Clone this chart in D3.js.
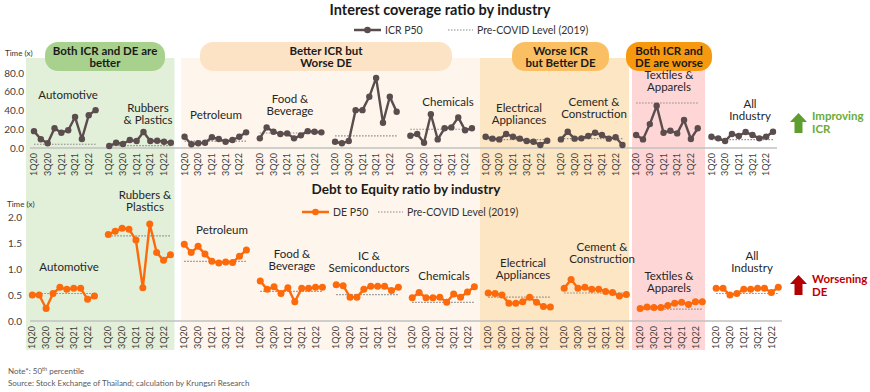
<!DOCTYPE html>
<html><head><meta charset="utf-8">
<script src="https://cdn.jsdelivr.net/npm/d3@7"></script>
<style>
html,body{margin:0;padding:0;background:#fff;}
svg{display:block;font-family:Lato,"Open Sans",sans-serif;}
</style></head>
<body>
<svg id="chart" width="870" height="392"></svg>
<script>
// ---------------- DATA ----------------
const quarters = ["1Q20","2Q20","3Q20","4Q20","1Q21","2Q21","3Q21","4Q21","1Q22","2Q22"];
const tickQuarters = ["1Q20","3Q20","1Q21","3Q21","1Q22"];
const industries = ["Automotive","Rubbers & Plastics","Petroleum","Food & Beverage","IC & Semiconductors",
  "Chemicals","Electrical Appliances","Cement & Construction","Textiles & Apparels","All Industry"];

const icrP50 = [
  [18, 9.3, 5, 21, 16.3, 19, 33, 9.6, 35, 40.4],
  [2.1, 5.6, 4.3, 8.5, 7.4, 17, 7.4, 7.8, 6.7, 5.6],
  [12, 4, 5, 5.6, 11.4, 9.6, 6.7, 8.5, 12, 16.7],
  [10.3, 22, 17.3, 15, 15.6, 10.3, 13.5, 18, 17.3, 16.7],
  [6.7, 5, 7.4, 40.4, 40.4, 54.6, 74.8, 27, 54.6, 38.6],
  [13, 15, 5.6, 36, 9.2, 21, 22, 32.6, 19, 21],
  [12, 10, 9.2, 15, 12, 10, 7.4, 6.7, 3.2, 7.8],
  [9.2, 17.3, 10, 10.3, 12.8, 16.3, 13.8, 10, 11.4, 3.2],
  [13.8, 9.2, 25.5, 45, 16.3, 18.4, 15.6, 29.8, 9.6, 21],
  [12, 10.3, 7.4, 15, 12.8, 17, 13.8, 10.3, 12, 17.3]
];
const icrPreCovid = [4, 2.5, 7.4, 16, 13, 20, 9, 10, 48, 9];

const deP50 = [
  [0.50, 0.50, 0.24, 0.53, 0.65, 0.61, 0.63, 0.63, 0.42, 0.48],
  [1.67, 1.73, 1.79, 1.77, 1.56, 0.64, 1.87, 1.32, 1.17, 1.28],
  [1.48, 1.32, 1.44, 1.29, 1.15, 1.12, 1.14, 1.13, 1.25, 1.37],
  [0.77, 0.61, 0.66, 0.53, 0.64, 0.37, 0.63, 0.63, 0.65, 0.65],
  [0.70, 0.68, 0.46, 0.46, 0.61, 0.67, 0.67, 0.67, 0.59, 0.65],
  [0.45, 0.55, 0.45, 0.45, 0.46, 0.36, 0.52, 0.46, 0.56, 0.66],
  [0.54, 0.53, 0.50, 0.34, 0.34, 0.37, 0.46, 0.36, 0.28, 0.27],
  [0.63, 0.80, 0.63, 0.65, 0.61, 0.61, 0.57, 0.55, 0.48, 0.51],
  [0.24, 0.27, 0.26, 0.26, 0.30, 0.34, 0.36, 0.32, 0.37, 0.37],
  [0.63, 0.63, 0.50, 0.53, 0.61, 0.61, 0.63, 0.63, 0.55, 0.65]
];
const dePreCovid = [0.53, 1.64, 1.15, 0.57, 0.51, 0.36, 0.46, 0.54, 0.23, 0.53];

const icrTicks = [0, 20, 40, 60, 80];
const deTicks = [0, 0.5, 1.0, 1.5, 2.0];

const zoneLabels = [["Both ICR and DE are","better"],["Better ICR but","Worse DE"],["Worse ICR","but Better DE"],["Both ICR and","DE are worse"]];

// ---------------- LAYOUT ----------------
const svg = d3.select("#chart");
const slotsPerGroup = 11;
const nSlots = industries.length * slotsPerGroup - 1;
const slot = (g, q) => g * slotsPerGroup + q;

const xTop = d3.scaleLinear().domain([0, nSlots - 1]).range([34, 773]);
const xBot = d3.scaleLinear().domain([0, nSlots - 1]).range([32.3, 778.3]);
const yTop = d3.scaleLinear().domain([0, 80]).range([148, 73]);
const yBot = d3.scaleLinear().domain([0, 2]).range([321, 217.3]);

const zones = [
  {x0: 26, x1: 174.5, fill: "#e2efd9", pill: [45, 165], pillFill: "#a9d18e"},
  {x0: 181, x1: 480, fill: "#fef6ec", pill: [200, 452], pillFill: "#fde3c6"},
  {x0: 480, x1: 629, fill: "#fde6c3", pill: [512, 609], pillFill: "#fbbf63"},
  {x0: 632, x1: 705, fill: "#ffd6d6", pill: [626, 712], pillFill: "#f7990f"}
];

// background zones
zones.forEach(z => {
  svg.append("rect").attr("x", z.x0).attr("y", 58).attr("width", z.x1 - z.x0).attr("height", 292).attr("fill", z.fill);
});
zones.forEach((z, i) => {
  svg.append("rect").attr("x", z.pill[0]).attr("y", 42).attr("width", z.pill[1] - z.pill[0]).attr("height", 29)
    .attr("rx", 13).attr("fill", z.pillFill);
  const t = svg.append("text").attr("x", (z.pill[0] + z.pill[1]) / 2).attr("y", 54.5)
    .attr("text-anchor", "middle").attr("font-size", 11.5).attr("font-weight", 700).attr("fill", "#1a1a1a");
  zoneLabels[i].forEach((s, k) => t.append("tspan").attr("x", (z.pill[0] + z.pill[1]) / 2).attr("dy", k ? 12 : 0).text(s));
});

// titles
svg.append("text").attr("x", 440).attr("y", 15).attr("text-anchor", "middle").attr("font-size", 14.5)
  .attr("font-weight", 700).attr("fill", "#1a1a1a").text("Interest coverage ratio by industry");
svg.append("text").attr("x", 406).attr("y", 194).attr("text-anchor", "middle").attr("font-size", 13.5)
  .attr("font-weight", 700).attr("fill", "#1a1a1a").text("Debt to Equity ratio by industry");

const icrColor = "#5b4c4d", deColor = "#fd6a0b", dotColor = "#8a8a8a";

// legends
function legend(x, y, color, label, dotX, dotLabel) {
  svg.append("line").attr("x1", x).attr("x2", x + 27).attr("y1", y).attr("y2", y).attr("stroke", color).attr("stroke-width", 2.5);
  svg.append("circle").attr("cx", x + 13.5).attr("cy", y).attr("r", 3.3).attr("fill", color);
  svg.append("text").attr("x", x + 31).attr("y", y + 3.5).attr("font-size", 10.5).attr("fill", "#333").text(label);
  svg.append("line").attr("x1", dotX).attr("x2", dotX + 25).attr("y1", y).attr("y2", y).attr("stroke", dotColor)
    .attr("stroke-width", 1.2).attr("stroke-dasharray", "1.5,1.5");
  svg.append("text").attr("x", dotX + 29).attr("y", y + 3.5).attr("font-size", 10.5).attr("fill", "#333").text(dotLabel);
}
legend(354, 30, icrColor, "ICR P50", 448, "Pre-COVID Level (2019)");
legend(302, 212, deColor, "DE P50", 378, "Pre-COVID Level (2019)");

// y axes labels
svg.append("text").attr("x", 5).attr("y", 56).attr("font-size", 8).attr("fill", "#333").text("Time (x)");
svg.append("text").attr("x", 7).attr("y", 207).attr("font-size", 8).attr("fill", "#333").text("Time (x)");
svg.append("g").selectAll("text").data(icrTicks).join("text").attr("x", 24).attr("y", d => yTop(d) + 3.5)
  .attr("text-anchor", "end").attr("font-size", 10).attr("fill", "#404040").text(d3.format(".1f"));
svg.append("g").selectAll("text").data(deTicks).join("text").attr("x", 22).attr("y", d => yBot(d) + 3.5)
  .attr("text-anchor", "end").attr("font-size", 10).attr("fill", "#404040").text(d3.format(".1f"));

// baselines
svg.append("line").attr("x1", 30).attr("x2", 777).attr("y1", yTop(0)).attr("y2", yTop(0)).attr("stroke", "#c0c0c0").attr("stroke-width", 1.5);
svg.append("line").attr("x1", 30).attr("x2", 782).attr("y1", yBot(0)).attr("y2", yBot(0)).attr("stroke", "#c0c0c0").attr("stroke-width", 1.5);

// x tick labels (rotated)
function xTicks(xs, yTopPos) {
  const g = svg.append("g");
  industries.forEach((ind, gi) => {
    quarters.forEach((q, qi) => {
      if (!tickQuarters.includes(q)) return;
      const x = xs(slot(gi, qi));
      g.append("text").attr("transform", `translate(${x},${yTopPos}) rotate(-90)`)
        .attr("text-anchor", "end").attr("dy", "0.35em").attr("font-size", 9).attr("fill", "#404040").text(q);
    });
  });
}
xTicks(xTop, 153);
xTicks(xBot, 326);

// series
function drawPanel(xs, ys, values, pre, color, r, width) {
  const g = svg.append("g");
  values.forEach((vals, gi) => {
    const pts = vals.map((v, qi) => [xs(slot(gi, qi)), ys(v)]);
    g.append("line").attr("x1", xs(slot(gi, 0))).attr("x2", xs(slot(gi, 9)))
      .attr("y1", ys(pre[gi])).attr("y2", ys(pre[gi])).attr("stroke", dotColor)
      .attr("stroke-width", 1.2).attr("stroke-dasharray", "1.5,1.5");
    g.append("path").attr("d", d3.line()(pts)).attr("fill", "none").attr("stroke", color)
      .attr("stroke-width", width).attr("stroke-linejoin", "round");
    g.selectAll(null).data(pts).join("circle").attr("cx", d => d[0]).attr("cy", d => d[1]).attr("r", r).attr("fill", color);
  });
}
drawPanel(xTop, yTop, icrP50, icrPreCovid, icrColor, 3.2, 2.4);
drawPanel(xBot, yBot, deP50, dePreCovid, deColor, 3.5, 2.4);

// industry labels
const topLabels = [
  [68, 99, ["Automotive"]], [148, 112, ["Rubbers", "& Plastics"]], [216, 119, ["Petroleum"]],
  [290, 103, ["Food &", "Beverage"]], null, [448, 106, ["Chemicals"]],
  [519, 112, ["Electrical", "Appliances"]], [594, 106, ["Cement &", "Construction"]],
  [669, 79, ["Textiles &", "Apparels"]], [750, 108, ["All", "Industry"]]
];
const botLabels = [
  [69, 271, ["Automotive"]], [145, 199, ["Rubbers &", "Plastics"]], [222, 234, ["Petroleum"]],
  [292, 258, ["Food &", "Beverage"]], [369, 260, ["IC &", "Semiconductors"]], [444, 280, ["Chemicals"]],
  [523, 267, ["Electrical", "Appliances"]], [602, 251, ["Cement &", "Construction"]],
  [669, 280, ["Textiles &", "Apparels"]], [752, 260, ["All", "Industry"]]
];
function labels(list) {
  list.forEach(l => {
    if (!l) return;
    const t = svg.append("text").attr("x", l[0]).attr("y", l[1]).attr("text-anchor", "middle")
      .attr("font-size", 11.5).attr("fill", "#262626");
    l[2].forEach((s, k) => t.append("tspan").attr("x", l[0]).attr("dy", k ? 11.5 : 0).text(s));
  });
}
labels(topLabels);
labels(botLabels);

// right indicators
function arrow(x, yTopA, color) {
  const p = d3.path();
  p.moveTo(x + 8.5, yTopA); p.lineTo(x + 17, yTopA + 9); p.lineTo(x + 12.5, yTopA + 9);
  p.lineTo(x + 12.5, yTopA + 20); p.lineTo(x + 4.5, yTopA + 20); p.lineTo(x + 4.5, yTopA + 9);
  p.lineTo(x, yTopA + 9); p.closePath();
  svg.append("path").attr("d", p.toString()).attr("fill", color);
}
arrow(790, 113, "#5e9e2e");
arrow(790, 275, "#b30000");
const t1 = svg.append("text").attr("x", 812).attr("y", 120).attr("font-size", 11.5).attr("font-weight", 700).attr("fill", "#6aab3a");
t1.append("tspan").attr("x", 812).text("Improving");
t1.append("tspan").attr("x", 812).attr("dy", 13).text("ICR");
const t2 = svg.append("text").attr("x", 812).attr("y", 283).attr("font-size", 11.5).attr("font-weight", 700).attr("fill", "#c00000");
t2.append("tspan").attr("x", 812).text("Worsening");
t2.append("tspan").attr("x", 812).attr("dy", 13).text("DE");

// footnotes
const n = svg.append("text").attr("x", 8).attr("y", 374).attr("font-size", 8).attr("fill", "#595959");
n.append("tspan").text("Note*: 50");
n.append("tspan").attr("dy", -3).attr("font-size", 5.5).text("th");
n.append("tspan").attr("dy", 3).text(" percentile");
svg.append("text").attr("x", 8).attr("y", 385.5).attr("font-size", 8).attr("fill", "#595959")
  .text("Source: Stock Exchange of Thailand; calculation by Krungsri Research");
</script>
</body></html>
